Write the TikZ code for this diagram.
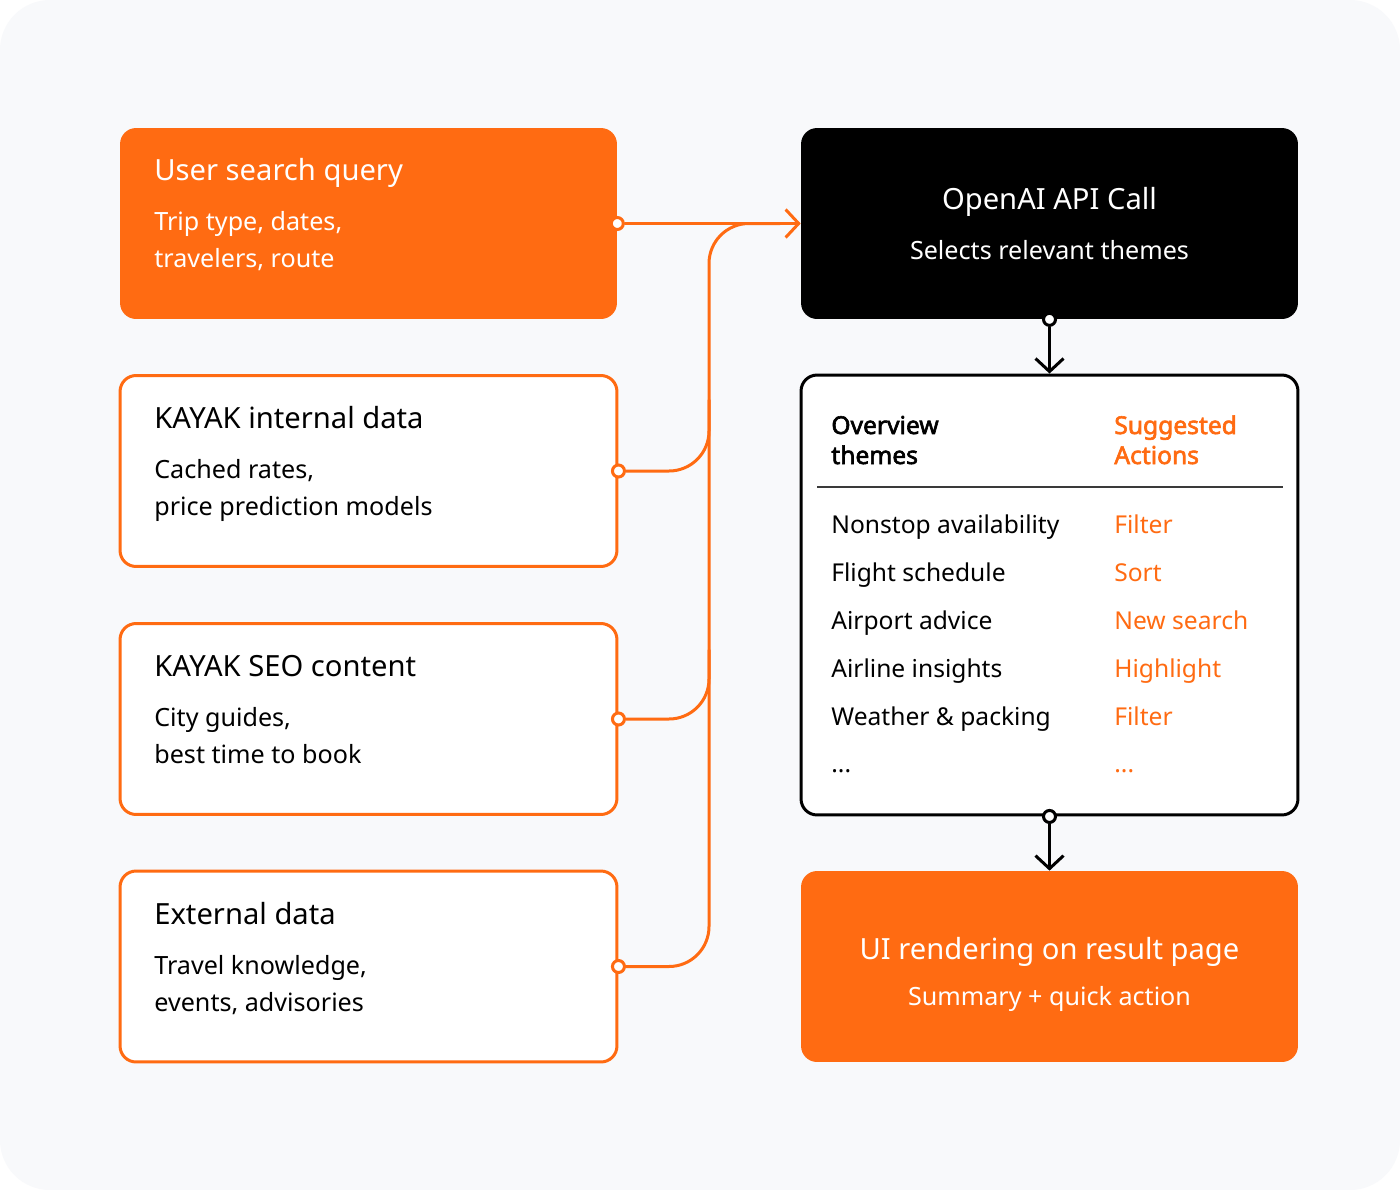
\documentclass[tikz,border=0pt]{standalone}
\usepackage{fontspec}
\setmainfont{Noto Sans}[BoldFont={Noto Sans}, BoldFeatures={FakeBold=2.5}]
\usetikzlibrary{arrows.meta}

\definecolor{kayak}{HTML}{FF6B12}
\definecolor{canvas}{HTML}{F8F9FB}
\definecolor{rulegray}{HTML}{3A3A3A}

\tikzset{
  card/.style={rounded corners=0.32cm, minimum width=9.94cm, minimum height=3.82cm, inner sep=0pt},
  srcfill/.style={card, fill=kayak},
  srcline/.style={card, draw=kayak, line width=0.06cm, fill=white},
  ttl/.style={anchor=base west, inner sep=0pt, font=\fontsize{16.6}{19}\selectfont},
  sub/.style={anchor=base west, inner sep=0pt, font=\fontsize{14.3}{17}\selectfont},
  row/.style={anchor=base west, inner sep=0pt, font=\fontsize{14}{17}\selectfont},
  headrow/.style={row, font=\fontsize{14}{17}\selectfont\bfseries},
  dot/.style={circle, fill=white, line width=0.06cm, minimum size=0.24cm, inner sep=0pt},
  wire/.style={kayak, line width=0.06cm, line cap=round},
  tip/.style={-{Straight Barb[length=0.26cm,width=0.56cm]}},
}

\begin{document}
\begin{tikzpicture}[x=0.02cm, y=-0.02cm]
\useasboundingbox (0,0) rectangle (1400,1190);
\fill[white] (0,0) rectangle (1400,1190);
\fill[canvas, rounded corners=1cm] (0,0) rectangle (1400,1190);

% sources
\node[srcfill] (user) at (368.5,223.5) {};
\node[srcline] (internal) at (368.5,471) {};
\node[srcline] (seo) at (368.5,719) {};
\node[srcline] (external) at (368.5,966.5) {};

\node[ttl, white] (userT) at (154,180) {User search query};
\node[sub, white] (userA) at (154,230) {Trip type, dates,};
\node[sub, white] (userB) at (154,267) {travelers, route};

\node[ttl] (internalT) at (154,428) {KAYAK internal data};
\node[sub] (internalA) at (154,478) {Cached rates,};
\node[sub] (internalB) at (154,515) {price prediction models};

\node[ttl] (seoT) at (154,676) {KAYAK SEO content};
\node[sub] (seoA) at (154,726) {City guides,};
\node[sub] (seoB) at (154,763) {best time to book};

\node[ttl] (externalT) at (154,924) {External data};
\node[sub] (externalA) at (154,974) {Travel knowledge,};
\node[sub] (externalB) at (154,1011) {events, advisories};

% right column
\node[card, fill=black] (api) at (1049.5,223.5) {};
\node[ttl, anchor=base, white] (apiT) at (1049.5,209) {OpenAI API Call};
\node[sub, anchor=base, white] (apiS) at (1049.5,259) {Selects relevant themes};

\node[card, minimum height=8.8cm, draw=black, line width=0.06cm, fill=white] (themes) at (1049.5,595) {};
\node[headrow] (headL1) at (831,434) {Overview};
\node[headrow] (headL2) at (831,464) {themes};
\node[headrow, kayak] (headR1) at (1114,434) {Suggested};
\node[headrow, kayak] (headR2) at (1114,464) {Actions};
\draw[rulegray, line width=0.03cm] (817,487) -- (1283,487);

\node[row] (t1) at (831,533) {Nonstop availability};
\node[row] (t2) at (831,581) {Flight schedule};
\node[row] (t3) at (831,629) {Airport advice};
\node[row] (t4) at (831,677) {Airline insights};
\node[row] (t5) at (831,725) {Weather \& packing};
\node[row] (t6) at (831,772) {...};
\node[row, kayak] (a1) at (1114,533) {Filter};
\node[row, kayak] (a2) at (1114,581) {Sort};
\node[row, kayak] (a3) at (1114,629) {New search};
\node[row, kayak] (a4) at (1114,677) {Highlight};
\node[row, kayak] (a5) at (1114,725) {Filter};
\node[row, kayak] (a6) at (1114,772) {...};

\node[srcfill] (render) at (1049.5,966.5) {};
\node[ttl, anchor=base, white] (renderT) at (1049.5,959) {UI rendering on result page};
\node[sub, anchor=base, white] (renderS) at (1049.5,1005) {Summary + quick action};

% connectors
\node[dot, draw=kayak] (userDot) at (user.east) {};
\node[dot, draw=kayak] (internalDot) at (internal.east) {};
\node[dot, draw=kayak] (seoDot) at (seo.east) {};
\node[dot, draw=kayak] (externalDot) at (external.east) {};
\node[dot, draw=black] (apiDot) at (api.south) {};
\node[dot, draw=black] (themesDot) at (themes.south) {};

\draw[wire, tip] (userDot) -- (api.west);
\draw[wire, rounded corners=0.8cm] (externalDot) -- (709,966.5) -- (709,223.5) -- (780,223.5);
\draw[wire, rounded corners=0.8cm] (internalDot) -- (709,471) -- (709,400);
\draw[wire, rounded corners=0.8cm] (seoDot) -- (709,719) -- (709,650);

\draw[line width=0.06cm, line cap=round, tip] (apiDot) -- (themes.north);
\draw[line width=0.06cm, line cap=round, tip] (themesDot) -- (render.north);
\end{tikzpicture}
\end{document}
